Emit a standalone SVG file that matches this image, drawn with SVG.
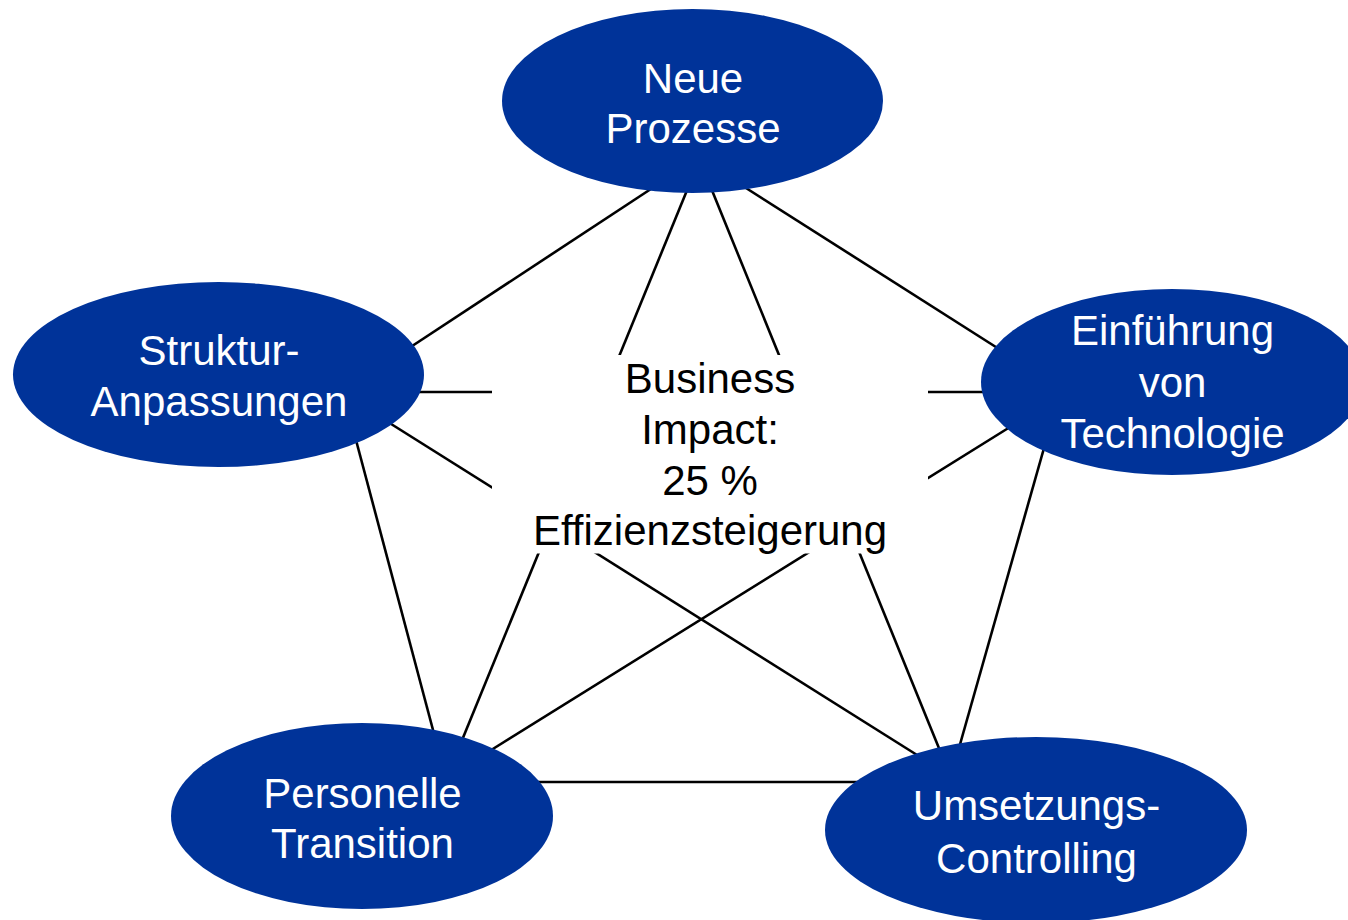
<svg xmlns="http://www.w3.org/2000/svg" width="1348" height="920" viewBox="0 0 1348 920">
<style>
.node ellipse{fill:#003399;stroke:none}
.node text{fill:#ffffff;font-family:"Liberation Sans",Arial,sans-serif;font-size:42px;text-anchor:middle}
.center text{fill:#000000;font-family:"Liberation Sans",Arial,sans-serif;font-size:42px;text-anchor:middle}
.conn line{stroke:#000000;stroke-width:2.6;fill:none}
</style>
<rect x="0" y="0" width="1348" height="920" fill="#ffffff"/>
<g id="connectors" class="conn">
<line x1="660" y1="183" x2="400" y2="354"/>
<line x1="735" y1="181" x2="1010" y2="356"/>
<line x1="690" y1="183" x2="458" y2="750"/>
<line x1="709" y1="183" x2="945" y2="763"/>
<line x1="400" y1="392" x2="1000" y2="392"/>
<line x1="380" y1="417" x2="925" y2="760"/>
<line x1="1010" y1="427" x2="480" y2="757"/>
<line x1="352" y1="425" x2="437" y2="745"/>
<line x1="1048" y1="434" x2="957" y2="755"/>
<line x1="520" y1="782" x2="880" y2="782"/>
</g>
<g id="center" class="center">
<rect x="492" y="355" width="436" height="198.5" fill="#ffffff"/>
<text x="710" y="393">Business</text>
<text x="710" y="444">Impact:</text>
<text x="710" y="495">25 %</text>
<text x="710" y="545">Effizienzsteigerung</text>
</g>
<g id="neue-prozesse" class="node">
<ellipse cx="692.5" cy="101" rx="190.5" ry="92"/>
<text x="693" y="93">Neue</text>
<text x="693" y="143">Prozesse</text>
</g>
<g id="struktur-anpassungen" class="node">
<ellipse cx="218.5" cy="374.5" rx="205.5" ry="92.5"/>
<text x="219" y="365">Struktur-</text>
<text x="219" y="416">Anpassungen</text>
</g>
<g id="einfuehrung-technologie" class="node">
<ellipse cx="1172" cy="382" rx="191" ry="93"/>
<text x="1172.5" y="345">Einführung</text>
<text x="1172.5" y="397">von</text>
<text x="1172.5" y="448">Technologie</text>
</g>
<g id="personelle-transition" class="node">
<ellipse cx="362" cy="816" rx="191" ry="93"/>
<text x="362.5" y="808">Personelle</text>
<text x="362.5" y="858">Transition</text>
</g>
<g id="umsetzungs-controlling" class="node">
<ellipse cx="1036" cy="830" rx="211" ry="93"/>
<text x="1036.5" y="820">Umsetzungs-</text>
<text x="1036.5" y="873">Controlling</text>
</g>
</svg>
